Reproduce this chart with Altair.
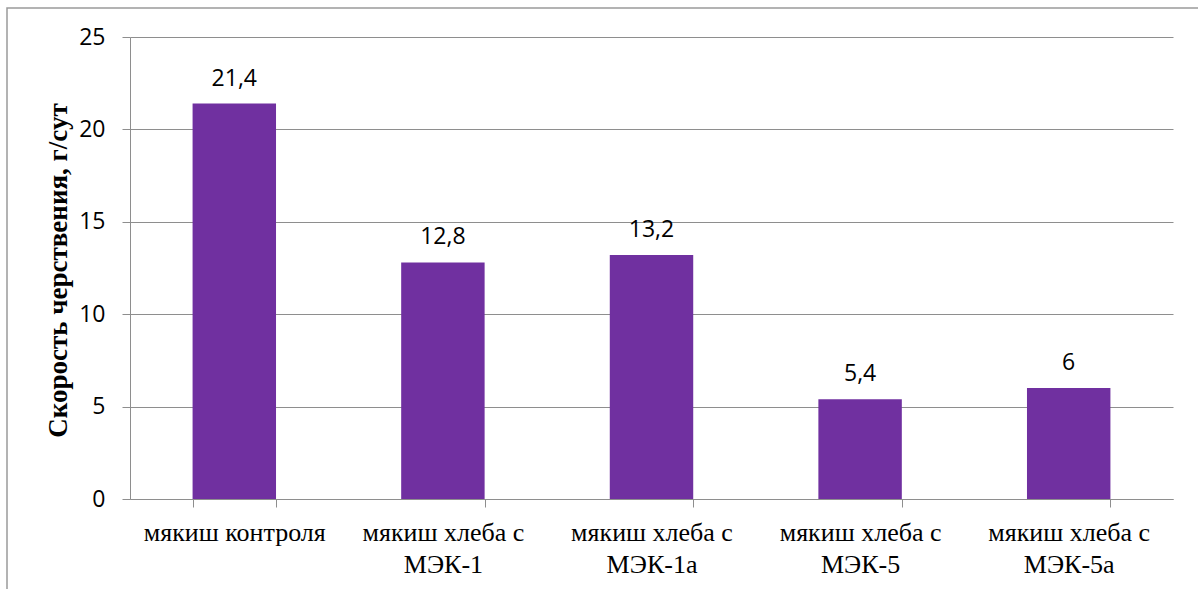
import altair as alt
import pandas as pd

# Category labels (line breaks inside a label are split on the axis)
categories = [
    "мякиш контроля",
    "мякиш хлеба с\nМЭК-1",
    "мякиш хлеба с\nМЭК-1а",
    "мякиш хлеба с\nМЭК-5",
    "мякиш хлеба с\nМЭК-5а",
]
# Staling rate, g/day
rates = [21.4, 12.8, 13.2, 5.4, 6.0]

y_ticks = [0, 5, 10, 15, 20, 25]

df = pd.DataFrame({
    "cat": categories,
    "rate": rates,
    "label": [f"{v:g}".replace(".", ",") for v in rates],
})

BAR = "#7030A0"
GRID = "#8E8E8E"
SANS = "Open Sans"
SERIF = "Liberation Serif"

x_enc = alt.X(
    "cat:N",
    sort=categories,
    scale=alt.Scale(paddingInner=0.6, paddingOuter=0.3),
    axis=alt.Axis(
        title=None,
        labelExpr="split(datum.label, '\\n')",
        labelAngle=0,
        labelFont=SERIF,
        labelFontSize=26,
        labelColor="#000000",
        labelLineHeight=32,
        labelBaseline="top",
        labelPadding=12,
        tickBand="extent",
        tickSize=8,
        tickColor=GRID,
        domainColor=GRID,
        grid=False,
        labelLimit=400,
    ),
)

y_enc = alt.Y(
    "rate:Q",
    scale=alt.Scale(domain=[0, 25], nice=False),
    axis=alt.Axis(
        title="Скорость черствения, г/сут",
        titleFont=SERIF,
        titleFontSize=27,
        titleFontWeight="bold",
        titleColor="#000000",
        titleAngle=-90,
        titleX=-72,
        titleY=233,
        titleAlign="center",
        titleBaseline="middle",
        values=y_ticks,
        labelFont=SANS,
        labelFontSize=23,
        labelColor="#000000",
        labelPadding=17,
        tickSize=8,
        tickColor=GRID,
        domainColor=GRID,
        gridColor=GRID,
        grid=True,
    ),
)

bars = alt.Chart(df).mark_bar(color=BAR).encode(x=x_enc, y=y_enc)

labels = alt.Chart(df).mark_text(
    font=SANS, fontSize=23, color="#000000", dy=-18, baseline="alphabetic"
).encode(
    x=alt.X("cat:N", sort=categories),
    y=alt.Y("rate:Q"),
    text="label:N",
)

# Outer frame around the whole chart area
frame = alt.Chart(pd.DataFrame({"a": [0]})).mark_rect(
    fill=None, stroke="#9A9A9A", strokeWidth=1.5, clip=False
).encode(
    x=alt.value(-123),
    x2=alt.value(1100),
    y=alt.value(-29),
    y2=alt.value(600),
)

chart = (
    alt.layer(frame, bars, labels)
    .properties(
        width=1043,
        height=462,
        autosize=alt.AutoSizeParams(type="none"),
        padding={"left": 130, "top": 37, "right": 25, "bottom": 90},
        background="#FFFFFF",
    )
    .configure_view(stroke=None)
)

chart.save("out.html", embed_options={"renderer": "svg", "actions": False})
